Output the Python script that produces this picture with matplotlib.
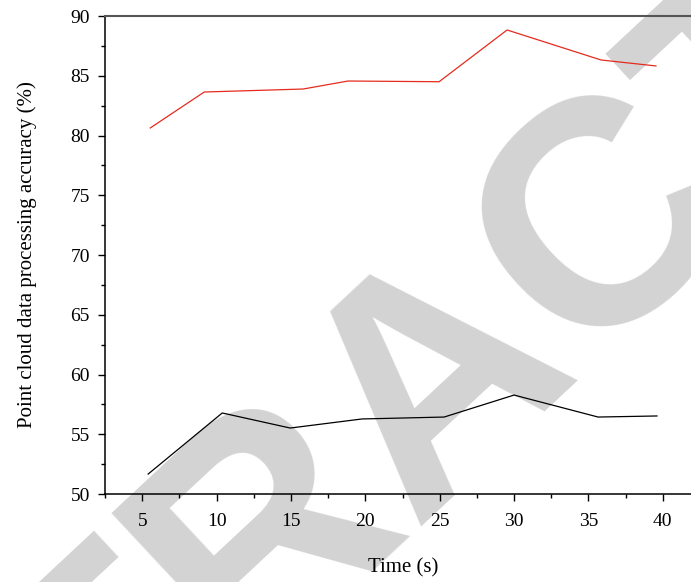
import matplotlib
matplotlib.use("Agg")
import matplotlib.pyplot as plt
from matplotlib.ticker import MultipleLocator

# values
time_red = [5.54, 9.17, 15.82, 18.84, 24.96, 29.53, 35.85, 39.54]
acc_red = [80.63, 83.64, 83.89, 84.56, 84.50, 88.83, 86.32, 85.82]

time_black = [5.40, 10.38, 14.95, 19.78, 25.30, 30.00, 35.65, 39.61]
acc_black = [51.67, 56.78, 55.52, 56.28, 56.44, 58.28, 56.44, 56.53]

x_ticks = [5, 10, 15, 20, 25, 30, 35, 40]
y_ticks = [50, 55, 60, 65, 70, 75, 80, 85, 90]

plt.rcParams["font.family"] = ["Liberation Serif", "DejaVu Serif"]

fig = plt.figure(figsize=(6.91, 5.82), dpi=100)
# the plot runs a little past the right edge of the picture
ax = fig.add_axes([0.152, 0.1512, 0.8625, 0.8213])
ax.set_facecolor("none")

# grey watermark behind everything
fig.text(0.634, 0.352, "RETRACTED", rotation=43, ha="center", va="center",
         fontsize=230, fontweight="bold", family="Liberation Sans",
         color="#d3d3d3", zorder=-5)

ax.plot(time_red, acc_red, color="#e52b1e", lw=0.9)
ax.plot(time_black, acc_black, color="black", lw=0.9)

ax.set_xlim(2.5, 42.57)
ax.set_ylim(50, 90)
ax.set_xticks(x_ticks)
ax.set_yticks(y_ticks)
ax.xaxis.set_minor_locator(MultipleLocator(2.5))
ax.yaxis.set_minor_locator(MultipleLocator(2.5))

ax.tick_params(which="both", direction="out", labelsize=14, width=1)
ax.tick_params(which="major", length=5)
ax.tick_params(which="minor", length=3)
ax.tick_params(axis="x", pad=9)
ax.tick_params(axis="y", pad=6)

ax.spines["right"].set_visible(False)
ax.spines["top"].set_color("#555555")
ax.spines["top"].set_linewidth(1.5)
ax.spines["left"].set_linewidth(1.1)
ax.spines["bottom"].set_linewidth(1.1)

ax.set_xlabel("Time (s)", fontsize=15, labelpad=20)
ax.set_ylabel("Point cloud data processing accuracy (%)", fontsize=15, labelpad=24)

fig.savefig("out.png", dpi=100)
